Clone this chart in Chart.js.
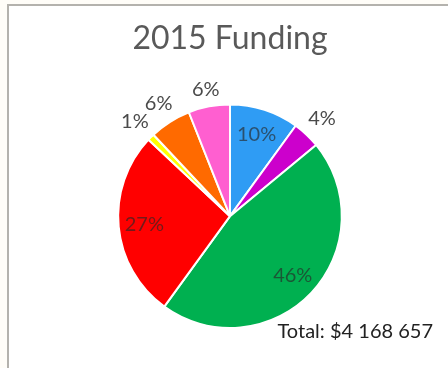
<!DOCTYPE html>
<html>
<head>
<meta charset="utf-8">
<script src="https://cdn.jsdelivr.net/npm/chart.js@4"></script>
<style>
  html, body { margin: 0; padding: 0; background: #fffdf8; }
  #frame {
    position: absolute; left: 7px; top: 4px; width: 441px; height: 364px;
    border-left: 2px solid #b4b2ad; border-top: 2px solid #b4b2ad;
    background: #ffffff;
  }
  #wrap { position: absolute; left: 0; top: 0; width: 448px; height: 368px; }
</style>
</head>
<body>
<div id="frame"></div>
<div id="wrap"><canvas id="pie" width="448" height="368"></canvas></div>
<script>
// funding shares, clockwise from 12 o'clock
const sources = ['Source 1', 'Source 2', 'Source 3', 'Source 4', 'Source 5', 'Source 6', 'Source 7'];
const shares = [10, 4, 46, 27, 1, 6, 6];
const sliceColors = ['#2f9cf4', '#cc00cc', '#00b050', '#ff0000', '#ffff00', '#ff6a00', '#ff5fd0'];
const totalText = 'Total: $4 168 657';
const font = 'Lato, "Open Sans", sans-serif';

// percentage labels: big slices inside, small ones just outside the rim
const sliceLabels = {
    id: 'sliceLabels',
    afterDatasetsDraw(chart) {
        const ctx = chart.ctx;
        const arcs = chart.getDatasetMeta(0).data;
        ctx.save();
        ctx.font = '20px ' + font;
        ctx.textAlign = 'center';
        ctx.textBaseline = 'middle';
        arcs.forEach((arc, i) => {
            const p = arc.getProps(['x', 'y', 'startAngle', 'endAngle', 'outerRadius']);
            const mid = (p.startAngle + p.endAngle) / 2;
            const text = shares[i] + '%';
            const c = Math.cos(mid), s = Math.sin(mid);
            let r;
            if (shares[i] >= 10) {
                r = p.outerRadius * 0.77;
                ctx.fillStyle = 'rgba(40,40,40,0.65)';
            } else {
                const w = ctx.measureText(text).width;
                r = p.outerRadius + 8 + Math.abs(c) * w / 2 + Math.abs(s) * 7;
                ctx.fillStyle = '#4a4a4a';
            }
            ctx.fillText(text, p.x + c * r, p.y + s * r);
        });
        // total in the lower right corner
        ctx.font = '20px ' + font;
        ctx.fillStyle = '#222';
        ctx.textAlign = 'right';
        ctx.fillText(totalText, 433, 332);
        ctx.restore();
    }
};

new Chart(document.getElementById('pie'), {
    type: 'pie',
    data: {
        labels: sources,
        datasets: [{
            data: shares,
            backgroundColor: sliceColors,
            borderColor: '#ffffff',
            borderWidth: 2
        }]
    },
    options: {
        responsive: false,
        animation: false,
        layout: { padding: { left: 117, right: 105, top: 0, bottom: 39 } },
        plugins: {
            legend: { display: false },
            tooltip: { enabled: false },
            title: {
                display: true,
                text: '2015 Funding',
                color: '#595959',
                font: { family: font, size: 32, weight: 'normal' },
                padding: { top: 19, bottom: 46 }
            }
        }
    },
    plugins: [sliceLabels]
});
</script>
</body>
</html>
